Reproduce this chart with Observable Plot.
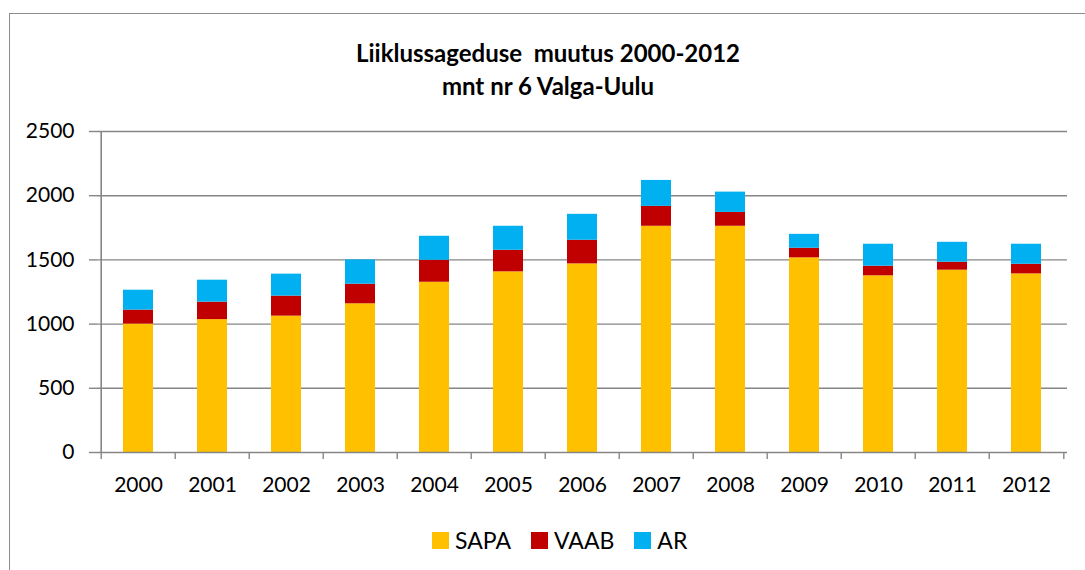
<!DOCTYPE html>
<html>
<head>
<meta charset="utf-8">
<script src="https://cdn.jsdelivr.net/npm/d3@7"></script>
<script src="https://cdn.jsdelivr.net/npm/@observablehq/plot@0.6"></script>
<style>
  body { margin:0; width:1085px; height:570px; overflow:hidden; position:relative; background:#fff; font-family: Lato, "Open Sans", sans-serif; }
  #border { position:absolute; left:9px; top:13px; width:2000px; height:2000px; border:1.5px solid #8c8c8c; }
  #title { position:absolute; left:0; width:1096px; top:36px; text-align:center; font-weight:bold; font-size:24px; line-height:33px; color:#000; }
  #chart { position:absolute; left:0; top:110px; }
  #legend { position:absolute; left:432px; top:526px; display:flex; align-items:center; font-size:23px; color:#000; }
  .li { display:flex; align-items:center; margin-right:20px; }
  .sw { width:17px; height:17px; margin-right:6px; }
</style>
</head>
<body>
<div id="border"></div>
<div id="title">Liiklussageduse&nbsp; muutus 2000-2012<br>mnt nr 6 Valga-Uulu</div>
<div id="chart"></div>
<div id="legend"></div>
<script>
const years = ["2000","2001","2002","2003","2004","2005","2006","2007","2008","2009","2010","2011","2012"];
const series = ["SAPA","VAAB","AR"];
const colors = ["#FFC000","#C00000","#00B0F0"];
const sapa = [1000,1035,1062,1158,1326,1407,1469,1762,1762,1516,1376,1420,1391];
const vaab = [109,136,156,153,171,168,184,155,108,75,75,62,75];
const ar   = [155,171,171,189,187,187,202,202,158,108,171,155,156];
const yTicks = [0,500,1000,1500,2000,2500];

const values = [sapa, vaab, ar];
const data = [];
series.forEach((s, si) => years.forEach((y, i) => data.push({year: y, series: s, value: values[si][i]})));

const W = 1085, H = 400, ML = 97, MR = 18, MT = 21, MB = 58;
const step = (W - ML - MR) / years.length;
const gray = "#868686";

const chart = Plot.plot({
  width: W, height: H,
  marginLeft: ML, marginRight: MR, marginTop: MT, marginBottom: MB,
  style: {fontFamily: "Lato, 'Open Sans', sans-serif", fontSize: "21px", color: "#000", background: "transparent", overflow: "visible"},
  x: {domain: years, paddingInner: 0.6, paddingOuter: 0.3, label: null},
  y: {domain: [0, 2500], label: null},
  color: {domain: series, range: colors},
  marks: [
    Plot.gridY(yTicks.slice(1), {stroke: gray, strokeOpacity: 1, strokeWidth: 1.4}),
    Plot.barY(data, {x: "year", y: "value", fill: "series", order: series}),
    Plot.ruleY([0], {stroke: gray, strokeWidth: 1.6}),
    Plot.ruleX([years[0]], {dx: -step / 2, y1: 0, y2: 2500, stroke: gray, strokeWidth: 1.6}),
    Plot.axisY({ticks: yTicks, tickSize: 8, tickFormat: () => "", stroke: gray, strokeWidth: 1.4}),
    Plot.axisY({ticks: yTicks, tickSize: 0, tickPadding: 23, tickFormat: d3.format("d"), fill: "#000"}),
    Plot.axisX({tickSize: 0, tickPadding: 25, fill: "#000"}),
    Plot.axisX({tickSize: 7, tickFormat: () => "", dx: -step / 2, stroke: gray, strokeWidth: 1.4}),
    Plot.axisX({ticks: [years[years.length - 1]], tickSize: 7, tickFormat: () => "", dx: step / 2, stroke: gray, strokeWidth: 1.4})
  ]
});
document.getElementById("chart").appendChild(chart);

const legend = d3.select("#legend");
series.forEach((s, i) => {
  const item = legend.append("div").attr("class", "li");
  item.append("div").attr("class", "sw").style("background", colors[i]);
  item.append("span").text(s);
});
</script>
</body>
</html>
